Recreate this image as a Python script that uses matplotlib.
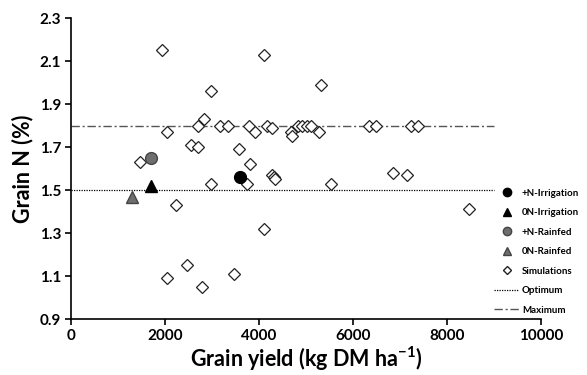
import matplotlib
matplotlib.use("Agg")
import matplotlib.pyplot as plt
from matplotlib.lines import Line2D

plt.rcParams['font.family'] = ['Lato', 'DejaVu Sans']
plt.rcParams['mathtext.fontset'] = 'custom'
plt.rcParams['mathtext.rm'] = 'Lato'
plt.rcParams['mathtext.bf'] = 'Lato:bold'

# Observed data
irr_N_x, irr_N_y = [3600], [1.56]
irr_0N_x, irr_0N_y = [1700], [1.52]
rf_N_x, rf_N_y = [1700], [1.65]
rf_0N_x, rf_0N_y = [1300], [1.47]

# Simulations
sim_x = [1930, 4110, 2970, 5310, 2050, 2830, 2710, 3170, 3330, 3780,
         3915, 4165, 4270, 4680, 4700, 4830, 4920, 5010, 5110, 5280,
         2550, 2690, 3570, 1470, 3810, 4270, 4310, 4340, 6330, 6480,
         7220, 7380, 6850, 7140, 3740, 2980, 2230, 4110, 2470, 2050,
         3460, 2790, 5520, 8470]
sim_y = [2.15, 2.13, 1.96, 1.99, 1.77, 1.83, 1.80, 1.80, 1.80, 1.80,
         1.77, 1.80, 1.79, 1.77, 1.75, 1.80, 1.80, 1.80, 1.80, 1.77,
         1.71, 1.70, 1.69, 1.63, 1.62, 1.57, 1.56, 1.55, 1.80, 1.80,
         1.80, 1.80, 1.58, 1.57, 1.53, 1.53, 1.43, 1.32, 1.15, 1.09,
         1.11, 1.05, 1.53, 1.41]

optimum = 1.5
maximum = 1.8
line_x = [0, 9000]

xticks = [0, 2000, 4000, 6000, 8000, 10000]
yticks = [0.9, 1.1, 1.3, 1.5, 1.7, 1.9, 2.1, 2.3]

fig = plt.figure(figsize=(5.87, 3.75), dpi=100)
ax = fig.add_axes([0.121, 0.149, 0.801, 0.803])

ax.plot(line_x, [optimum, optimum], color='black', linestyle=(0, (1, 1)), linewidth=0.9, zorder=1)
ax.plot(line_x, [maximum, maximum], color='#555555', linestyle=(0, (6, 2, 1.5, 2)), linewidth=1.0, zorder=1)

ax.plot(sim_x, sim_y, linestyle='none', marker='D', markersize=6.5,
        markerfacecolor='white', markeredgecolor='#222222', markeredgewidth=0.9, zorder=2)
ax.plot(irr_N_x, irr_N_y, linestyle='none', marker='o', markersize=8.5,
        color='black', zorder=3)
ax.plot(irr_0N_x, irr_0N_y, linestyle='none', marker='^', markersize=8,
        color='black', zorder=3)
ax.plot(rf_N_x, rf_N_y, linestyle='none', marker='o', markersize=8.5,
        markerfacecolor='#6e6e6e', markeredgecolor='#444444', zorder=3)
ax.plot(rf_0N_x, rf_0N_y, linestyle='none', marker='^', markersize=8,
        markerfacecolor='#6e6e6e', markeredgecolor='#444444', zorder=3)

ax.set_xlim(0, 10000)
ax.set_ylim(0.9, 2.3)
ax.set_xticks(xticks)
ax.set_yticks(yticks)
ax.set_xticklabels([str(t) for t in xticks], fontweight='bold', fontsize=11)
ax.set_yticklabels([f"{t:.1f}" for t in yticks], fontweight='bold', fontsize=11)
ax.spines['top'].set_visible(False)
ax.spines['right'].set_visible(False)
ax.spines['left'].set_linewidth(1.2)
ax.spines['bottom'].set_linewidth(1.2)
ax.tick_params(direction='out', length=4, width=1.2, pad=3)

ax.set_xlabel('Grain yield (kg DM ha$^{\\mathbf{-1}}$)', fontsize=15.5, fontweight='bold', labelpad=1)
ax.set_ylabel('Grain N (%)', fontsize=15.5, fontweight='bold', labelpad=5)

handles = [
    Line2D([], [], linestyle='none', marker='o', markersize=6, color='black'),
    Line2D([], [], linestyle='none', marker='^', markersize=6, color='black'),
    Line2D([], [], linestyle='none', marker='o', markersize=6, markerfacecolor='#6e6e6e', markeredgecolor='#444444'),
    Line2D([], [], linestyle='none', marker='^', markersize=6, markerfacecolor='#6e6e6e', markeredgecolor='#444444'),
    Line2D([], [], linestyle='none', marker='D', markersize=4.5, markerfacecolor='white', markeredgecolor='#222222'),
    Line2D([], [], color='black', linestyle=(0, (1, 1)), linewidth=0.9),
    Line2D([], [], color='#555555', linestyle=(0, (6, 2, 1.5, 2)), linewidth=1.0),
]
labels = ['+N-Irrigation', '0N-Irrigation', '+N-Rainfed', '0N-Rainfed',
          'Simulations', 'Optimum', 'Maximum']
leg = ax.legend(handles, labels, loc='upper left', bbox_to_anchor=(0.9, 0.433),
                frameon=False, prop={'weight': 'bold', 'size': 7},
                handlelength=2.6, handletextpad=0.25, labelspacing=1.08,
                borderaxespad=0, borderpad=0)

fig.savefig('out.png', dpi=100)
